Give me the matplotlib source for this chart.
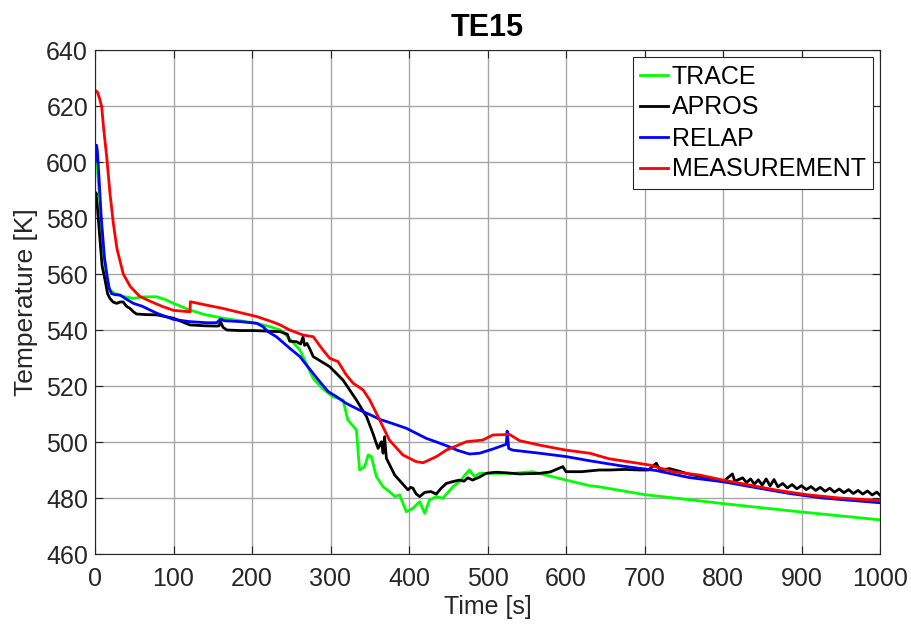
import numpy as np
import matplotlib.pyplot as plt

plt.rcParams['font.family'] = ['Liberation Sans', 'DejaVu Sans']

# --- data (time [s], temperature [K]) ---
trace = [
    (0, 602.5), (2, 602), (5, 590), (10, 570), (15, 558), (19, 554.3), (25, 553),
    (35, 552), (49, 551.3), (60, 551.8), (78, 551.9), (90, 550.8), (100, 549.5),
    (121, 547.1), (140, 545.5), (163, 544.2), (185, 543.3), (206, 542.4),
    (225, 541), (236, 540), (244, 538), (261, 532.9), (278, 522.7), (290, 519),
    (303, 516.2), (316, 515), (322, 507.9), (333, 504.3), (337, 490),
    (343.6, 491.2), (348, 495.4), (352, 494.8), (358.5, 487.6), (367, 484),
    (375, 482.3), (382, 480.5), (388, 481.1), (396.6, 475.1), (405, 476.3),
    (413.6, 478.7), (420, 474.5), (426, 479.3), (435, 480.5), (443, 479.9),
    (456, 484), (466.5, 486.4), (472, 488.5), (477, 490), (483.5, 487.6),
    (490, 488.8), (507, 488.8), (532, 488.8), (557, 489.4), (574, 488.2),
    (600, 486.4), (630, 484.4), (642, 484), (700, 481.2), (757, 479.4),
    (800, 478), (863, 476.1), (900, 475), (1000, 472.2),
]

apros = [
    (0, 586.4), (1.3, 589), (3, 584), (6.4, 572), (9, 563), (12.7, 558),
    (16, 553), (19, 551.3), (23, 550), (27.6, 549.5), (32, 550), (36, 550),
    (40, 548.5), (44.6, 547.7), (49, 546.5), (53, 545.7), (65, 545.5),
    (78.6, 545.4), (100, 544.2), (121, 541.8), (140, 541.5), (155, 541.4),
    (158, 541.5), (160, 543), (163, 541), (168, 540), (185, 539.8), (202, 539.8),
    (220, 539.6), (236, 539.4), (245, 538.5), (248, 536), (257, 535.8),
    (262, 535), (265, 537.5), (267, 534.5), (270, 535.2), (274, 533),
    (278, 530.5), (299, 526.9), (316, 522.1), (333, 515), (346, 509),
    (354, 503.1), (360.6, 497.7), (364.8, 500.1), (367, 496), (368.9, 501.9),
    (371.2, 494.2), (381.8, 488.2), (392, 485), (398.7, 482.9), (402, 483.8),
    (405, 483.5), (409, 481.5), (413.6, 480.5), (420, 482), (428, 482.3),
    (434.7, 481.4), (441, 483.5), (447.5, 485.2), (455, 485.8), (464, 486.4),
    (470, 486), (475, 487.2), (481, 486.4), (490, 487.5), (498, 488.8),
    (510, 489.2), (524, 489), (541, 488.6), (566, 488.8), (580, 489.3),
    (596, 491.2), (600, 489.4), (620, 489.4), (642, 490), (655, 490),
    (675, 490.2), (694, 490), (705, 490), (715, 492.4), (720, 490),
    (732, 490.5), (745, 489.5), (757, 488.5), (770, 487.8), (785, 487),
    (800, 485.8), (812, 488.6), (815, 486), (825, 487.2), (830, 485.5),
    (835, 486.8), (840, 485), (845, 486.5), (850, 484.6), (855, 486.8),
    (860, 484.3), (865, 486.6), (870, 484), (876, 485.2), (882, 483.6),
    (888, 484.8), (894, 483.3), (900, 484.4), (906, 483), (912, 484.1),
    (918, 482.7), (924, 483.8), (930, 482.4), (936, 483.5), (942, 482.1),
    (948, 483.2), (954, 481.9), (960, 483), (966, 481.6), (972, 482.7),
    (978, 481.4), (984, 482.5), (990, 481.1), (996, 482.1), (1000, 481),
]

relap = [
    (0, 600), (1, 604), (2, 606), (3, 604), (5, 595), (8, 580), (12, 566),
    (15, 560), (18, 555), (21, 553), (26, 552.6), (32, 552.5), (40, 551),
    (49, 549.5), (60, 548.5), (78.6, 546), (90, 544.8), (100, 543.8),
    (120, 543), (142, 542.6), (155, 542.6), (160, 543.9), (165, 543.3),
    (185, 543), (206, 542.4), (214, 541.2), (220, 539.5), (231, 537.6),
    (236, 536.4), (248, 533.5), (261, 530.5), (275, 525.5), (286.4, 521.5),
    (297, 518), (307.6, 516.2), (320, 513.8), (337, 511.4), (350, 509.8),
    (362.7, 508.1), (380, 506.5), (396.6, 504.9), (410, 503), (422, 501.3),
    (435, 500), (447.5, 498.7), (462, 497), (477, 495.7), (490, 496),
    (507, 497.5), (524, 499.2), (525, 503.9), (527, 497.7), (532, 497.1),
    (566, 496), (600, 494.8), (630, 493.3), (672, 491.4), (715, 489.8),
    (757, 487.3), (800, 485.8), (842, 483.7), (885, 481.6), (927, 480),
    (1000, 478.3),
]

measurement = [
    (0, 625.7), (3, 625), (6, 622.5), (8.5, 619.7), (11, 612), (14.9, 601.9),
    (19, 589), (23.4, 578), (28, 569), (36, 560), (45, 555.5), (57, 552),
    (70, 550.3), (85, 548.5), (100, 547), (121, 546.5), (121.5, 550.1),
    (140, 549), (163, 547.7), (185, 546.2), (206, 544.8), (225, 543),
    (236, 541.8), (248, 540), (265, 538.2), (278, 537.6), (290, 533),
    (299, 529.9), (309.7, 528.7), (320, 524), (328.8, 521), (341.5, 518.6),
    (350, 515), (358.5, 510.2), (375, 500.7), (392, 495.4), (409, 493),
    (418, 492.6), (435, 494.8), (447.5, 497.1), (473, 500.1), (494, 500.7),
    (506.8, 502.5), (528, 502.7), (540.7, 500.5), (566, 498.9), (600, 497.1),
    (630, 496), (655, 494), (706, 491.8), (736, 489.4), (770, 488.2),
    (800, 486.4), (842, 484.2), (868, 482.8), (906, 481.2), (948, 480),
    (1000, 479.1),
]

series = [
    ("TRACE", trace, "#00ff00"),
    ("APROS", apros, "#000000"),
    ("RELAP", relap, "#0000ff"),
    ("MEASUREMENT", measurement, "#ff0000"),
]

xticks = np.arange(0, 1001, 100)
yticks = np.arange(460, 641, 20)

fig = plt.figure(figsize=(9.11, 6.25), dpi=100)
ax = fig.add_axes([95 / 911, 1 - 554 / 625, 785 / 911, 504 / 625])

for name, pts, color in series:
    t, y = np.array(pts).T
    ax.plot(t, y, color=color, linewidth=2.0, label=name)

ax.set_xlim(0, 1000)
ax.set_ylim(460, 640)
ax.set_xticks(xticks)
ax.set_yticks(yticks)
ax.grid(True, color='#a6a6a6', linewidth=1.0)
ax.set_axisbelow(True)
ax.tick_params(direction='in', top=True, right=True, length=6,
               labelsize=18, colors='#262626', width=0.8, pad=5)
ax.tick_params(axis='x', pad=9)
for s in ax.spines.values():
    s.set_color('#262626')
    s.set_linewidth(0.8)

ax.set_xlabel("Time [s]", fontsize=18, color='#262626', labelpad=3)
ax.set_ylabel("Temperature [K]", fontsize=19, color='#262626', labelpad=6)
ax.set_title("TE15", fontsize=22, fontweight='bold', pad=10)

leg = ax.legend(loc='upper right', fontsize=18, fancybox=False, framealpha=1,
                edgecolor='#262626', handlelength=1.1, handletextpad=0.15,
                borderpad=0.3, labelspacing=0.28, borderaxespad=0.28)
leg.get_frame().set_linewidth(0.8)

fig.savefig("out.png", dpi=100)
